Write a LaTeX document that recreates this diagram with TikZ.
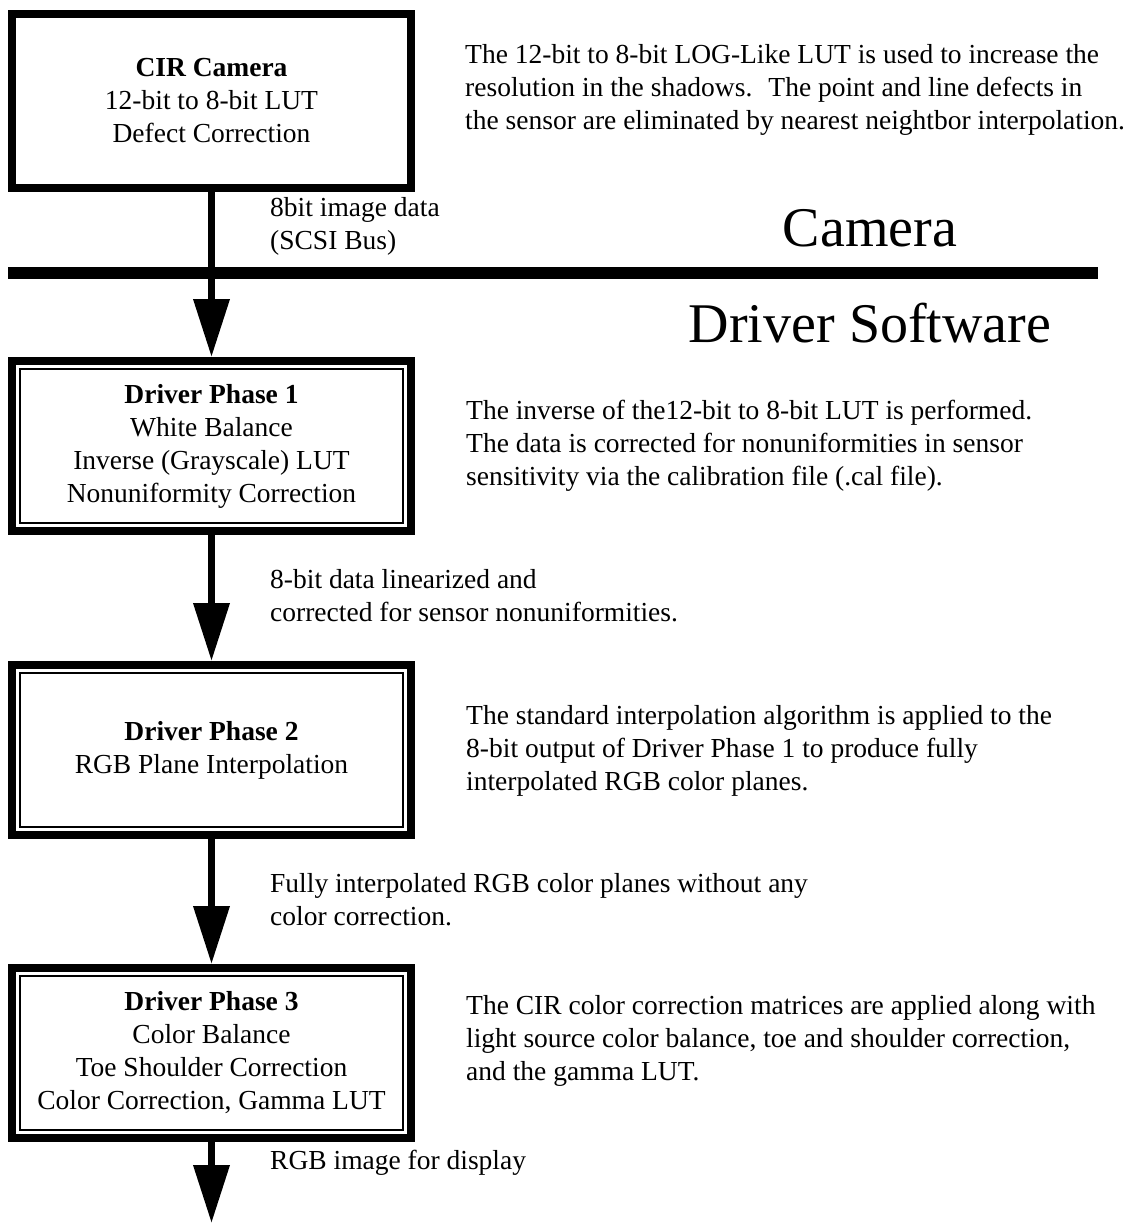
\documentclass[tikz,border=0pt]{standalone}
\usepackage{fontspec}
\setmainfont{Liberation Serif}
\usetikzlibrary{arrows.meta}

\newcommand{\bodyfont}{\fontsize{27.5}{33}\selectfont}
\newcommand{\bigfont}{\fontsize{56}{60}\selectfont}

\tikzset{
  cambox/.style={draw, line width=8pt, minimum width=399pt, minimum height=174pt,
    inner sep=0pt, align=center, font=\bodyfont},
  phasebox/.style={cambox, minimum height=170pt},
  thinrule/.style={line width=2.5pt},
  flow/.style={line width=7pt, -{Triangle[length=58pt,width=35pt]}},
  notetext/.style={anchor=west, align=left, inner sep=0pt, font=\bodyfont},
  zonelabel/.style={inner sep=0pt, font=\bigfont}
}

\begin{document}
\begin{tikzpicture}[x=1pt,y=-1pt]
        \useasboundingbox (0,0) rectangle (1136,1223);
        % boxes
        \node [cambox] (cam) at (211.5,101) {\textbf{CIR Camera}\\12-bit to 8-bit LUT\\Defect Correction};
        \node [phasebox] (p1) at (211.5,446) {\textbf{Driver Phase 1}\\White Balance\\Inverse (Grayscale) LUT\\Nonuniformity Correction};
        \node [phasebox] (p2) at (211.5,750) {\textbf{Driver Phase 2}\\RGB Plane Interpolation};
        \node [phasebox] (p3) at (211.5,1053) {\textbf{Driver Phase 3}\\Color Balance\\Toe Shoulder Correction\\Color Correction, Gamma LUT};
        \foreach \n in {p1,p2,p3}
            \draw [thinrule] ([shift={(12pt,12pt)}]\n.south west) rectangle ([shift={(-12pt,-12pt)}]\n.north east);
        % camera / driver boundary
        \draw [line width=12pt] (8,273) -- (1098,273);
        \node [zonelabel] (camzone) at (870,228) {Camera};
        \node [zonelabel] (drvzone) at (870,323) {Driver Software};
        % data flow
        \coordinate (dispend) at (211.5,1223);
        \draw [flow] (cam) -- (p1);
        \draw [flow] (p1) -- (p2);
        \draw [flow] (p2) -- (p3);
        \draw [flow] (p3) -- (dispend);
        \node [notetext] (l1) at (270,226) {8bit image data\\(SCSI Bus)};
        \node [notetext] (l2) at (270,596) {8-bit data linearized and\\corrected for sensor nonuniformities.};
        \node [notetext] (l3) at (270,900) {Fully interpolated RGB color planes without any\\color correction.};
        \node [notetext] (l4) at (270,1163) {RGB image for display};
        % explanations
        \node [notetext] (camnote) at (465,90) {The 12-bit to 8-bit LOG-Like LUT is used to increase the\\resolution in the shadows.~ The point and line defects in\\the sensor are eliminated by nearest neightbor interpolation.};
        \node [notetext] (p1note) at (466,446) {The inverse of the12-bit to 8-bit LUT is performed.\\The data is corrected for nonuniformities in sensor\\sensitivity via the calibration file (.cal file).};
        \node [notetext] (p2note) at (466,751) {The standard interpolation algorithm is applied to the\\8-bit output of Driver Phase 1 to produce fully\\interpolated RGB color planes.};
        \node [notetext] (p3note) at (466,1041) {The CIR color correction matrices are applied along with\\light source color balance, toe and shoulder correction,\\and the gamma LUT.};
    \end{tikzpicture}
\end{document}
